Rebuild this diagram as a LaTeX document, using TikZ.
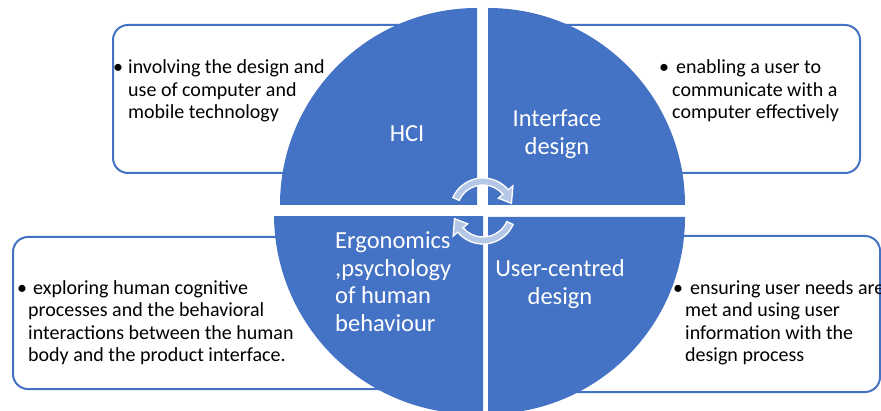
\documentclass[tikz,border=0pt]{standalone}
\usepackage{fontspec}
\setmainfont{Carlito}
\definecolor{accblue}{RGB}{68,114,196}
\definecolor{arrowfill}{RGB}{180,199,231}
\begin{document}
\begin{tikzpicture}[x=1pt,y=1pt,
  infobox/.style={draw=accblue,line width=2pt,fill=white,rounded corners=15pt},
  pie/.style={fill=accblue},
  cyc/.style={fill=arrowfill,draw=white,line width=1.3pt,line join=miter},
  boxtext/.style={anchor=base west,inner sep=0pt,font=\fontsize{20}{22.3}\selectfont,text=black},
  bul/.style={anchor=base,inner sep=0pt,font=\fontsize{20}{22.3}\selectfont,text=black},
  pietext/.style={inner sep=0pt,text=white,font=\fontsize{24.5}{27.8}\selectfont}]
\useasboundingbox (0,0) rectangle (881,410);
\fill[white] (0,0) rectangle (881,410);

% information boxes (partly hidden behind the circle)
\draw[infobox] (113,385) rectangle (440,237);
\draw[infobox] (520,385) rectangle (860,237);
\draw[infobox] (13,173) rectangle (440,21);
\draw[infobox] (520,174) rectangle (880,18);

% quadrants
\fill[pie] (477,205) -- (477,402) arc[start angle=90,end angle=180,radius=197pt] -- cycle;
\fill[pie] (488,205) -- (685,205) arc[start angle=0,end angle=90,radius=197pt] -- cycle;
\fill[pie] (488,193) -- (488,-4) arc[start angle=270,end angle=360,radius=197pt] -- cycle;
\begin{scope}
  \clip (483,193) rectangle (250,-20);
  \fill[pie] (474,196) circle[radius=200pt];
\end{scope}

% cycle arrows
\begin{scope}[shift={(483,199)}]
  \path[cyc] (156:33) arc[start angle=156,end angle=40,radius=33pt] -- (40:39) -- (15:29.5) -- (40:20) -- (40:26) arc[start angle=40,end angle=156,radius=26pt] -- cycle;
  \path[cyc] (336:33) arc[start angle=336,end angle=220,radius=33pt] -- (220:39) -- (195:29.5) -- (220:20) -- (220:26) arc[start angle=220,end angle=336,radius=26pt] -- cycle;
\end{scope}

% quadrant labels
\node[pietext,anchor=base] (hci) at (407,268) {HCI};
\node[pietext,anchor=base] (ifd) at (557,283.3) {\begin{tabular}[t]{@{}c@{}}Interface\\ design\end{tabular}};
\node[pietext,anchor=base west] (erg) at (335,161.7) {\begin{tabular}[t]{@{}l@{}}Ergonomics\\ ,psychology\\ of human\\ behaviour\end{tabular}};
\node[pietext,anchor=base] (ucd) at (560,133.3) {\begin{tabular}[t]{@{}c@{}}User-centred\\ design\end{tabular}};

% box texts
\node[bul] (b1) at (118,336) {•};
\node[boxtext] (t1) at (128,336) {\begin{tabular}[t]{@{}l@{}}involving the design and\\ use of computer and\\ mobile technology\end{tabular}};
\node[bul] (b2) at (664,336) {•};
\node[boxtext] (t2) at (672,336) {\begin{tabular}[t]{@{}l@{}}\hspace{4pt}enabling a user to\\ communicate with a\\ computer effectively\end{tabular}};
\node[bul] (b3) at (22,115.5) {•};
\node[boxtext] (t3) at (28,115.5) {\begin{tabular}[t]{@{}l@{}}\hspace{5pt}exploring human cognitive\\ processes and the behavioral\\ interactions between the human\\ body and the product interface.\end{tabular}};
\node[bul] (b4) at (678,115.5) {•};
\node[boxtext] (t4) at (685,115.5) {\begin{tabular}[t]{@{}l@{}}\hspace{5pt}ensuring user needs are\\ met and using user\\ information with the\\ design process\end{tabular}};
\end{tikzpicture}
\end{document}
